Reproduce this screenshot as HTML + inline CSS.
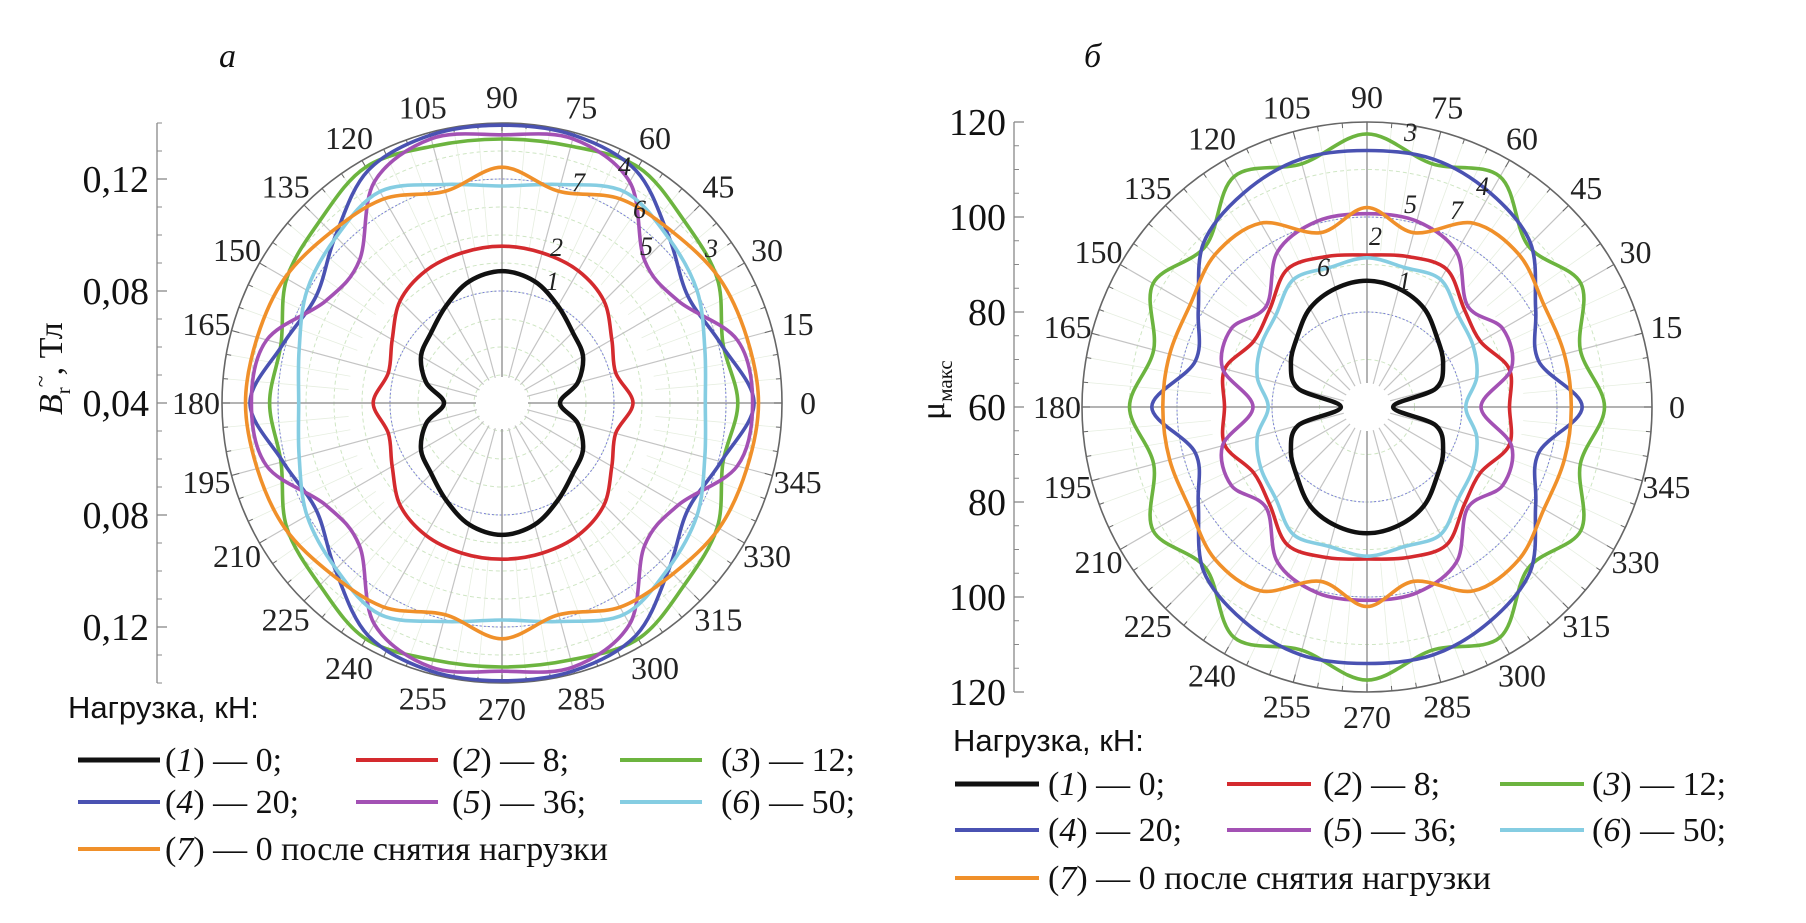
<!DOCTYPE html>
<html><head><meta charset="utf-8">
<style>
html,body{margin:0;padding:0;background:#fff;}
svg{display:block;font-family:"Liberation Serif",serif;}
</style></head>
<body>
<svg id="fig" width="1806" height="923" viewBox="0 0 1806 923"></svg>
<script>
// ---- data (angles in degrees, 0..345 step 15) ----
const angles = [0,15,30,45,60,75,90,105,120,135,150,165,180,195,210,225,240,255,270,285,300,315,330,345];
const seriesNames = ["(1) — 0;","(2) — 8;","(3) — 12;","(4) — 20;","(5) — 36;","(6) — 50;","(7) — 0 после снятия нагрузки"];
// Panel a: B_r~, T
const aS1 = [0.0607,0.068,0.0734,0.0757,0.080,0.085,0.0871,0.085,0.080,0.0757,0.0734,0.068,0.0607,0.068,0.0734,0.0757,0.080,0.085,0.0871,0.085,0.080,0.0757,0.0734,0.068];
const aS2 = [0.0868,0.082,0.0853,0.0915,0.0945,0.0955,0.096,0.0955,0.0945,0.0915,0.0853,0.082,0.0860,0.082,0.0853,0.0915,0.0945,0.0955,0.0958,0.0955,0.0945,0.0915,0.0853,0.082];
const aS3 = [0.1242,0.1217,0.1288,0.132,0.1373,0.135,0.1343,0.135,0.1373,0.132,0.1288,0.1217,0.123,0.1217,0.1288,0.132,0.1373,0.135,0.1343,0.135,0.1373,0.132,0.1288,0.1217];
const aS4 = [0.130,0.121,0.1166,0.1242,0.1358,0.139,0.1392,0.139,0.1358,0.1242,0.1166,0.121,0.130,0.121,0.1166,0.1242,0.1358,0.139,0.1392,0.139,0.1358,0.1242,0.1166,0.121];
const aS5 = [0.1295,0.127,0.1128,0.112,0.1312,0.1377,0.1358,0.1377,0.1312,0.112,0.1128,0.127,0.1295,0.127,0.1128,0.112,0.1312,0.1377,0.1358,0.1377,0.1312,0.112,0.1128,0.127];
const aS6 = [0.1126,0.115,0.1204,0.1238,0.1272,0.1208,0.1175,0.1208,0.1272,0.1238,0.1204,0.115,0.1126,0.115,0.1204,0.1238,0.1272,0.1208,0.1175,0.1208,0.1272,0.1238,0.1204,0.115];
const aS7 = [0.1316,0.1305,0.1295,0.1263,0.1242,0.1183,0.1242,0.1183,0.1242,0.1263,0.1295,0.1305,0.1316,0.1305,0.1295,0.1263,0.1242,0.1183,0.1242,0.1183,0.1242,0.1263,0.1295,0.1305];
// Panel b: mu_max
const bS1 = [65.5,75,78.5,80.8,84,85.8,86.6,85.8,84,80.8,78.5,75,65.5,75,78.5,80.8,84,85.8,86.6,85.8,84,80.8,78.5,75];
const bS2 = [90,91,87.6,89,93.5,92.8,92,92.8,93.5,89,87.6,91,90,91,87.6,89,93.5,92.8,92,92.8,93.5,89,87.6,91];
const bS3 = [110,106.5,112,108,116,113,117.5,113,116,108,112,106.5,110,106.5,112,108,116,113,117.5,113,116,108,112,106.5];
const bS4 = [105.3,97.4,101,108.7,112,114,114,114,112,108.7,101,97.4,105.3,97.4,101,108.7,112,114,114,114,112,108.7,101,97.4];
const bS5 = [84,91.5,93,90,97.7,100.5,100.7,100.5,97.7,90,93,91.5,84,91.5,93,90,97.7,100.5,100.7,100.5,97.7,90,93,91.5];
const bS6 = [80.8,83.9,85.8,87.2,91,90.4,91.4,90.4,91,87.2,85.8,83.9,80.8,83.9,85.8,87.2,91,90.4,91.4,90.4,91,87.2,85.8,83.9];
const bS7 = [103,103,103,105.3,104.7,98,102,98,104.7,105.3,103,103,103,103,103,105.3,104.7,98,102,98,104.7,105.3,103,103];
// tick labels
const aTicks = [0.12,0.08,0.04,0.08,0.12];
const aTickLabels = ["0,12","0,08","0,04","0,08","0,12"];
const bTicks = [120,100,80,60,80,100,120];
const bTickLabels = ["120","100","80","60","80","100","120"];
const angleLabels = ["0","15","30","45","60","75","90","105","120","135","150","165","180","195","210","225","240","255","270","285","300","315","330","345"];

const colors = ["#111111","#d42a2e","#6cb43f","#4a52b2","#a351b4","#85cde2","#f0902a"];
const NS = "http://www.w3.org/2000/svg";
const svg = document.getElementById("fig");
function mk(tag, attrs, parent){const e=document.createElementNS(NS,tag);for(const k in attrs)e.setAttribute(k,attrs[k]);(parent||svg).appendChild(e);return e;}

function drawPanel(p){
  const g = mk("g",{});
  
  
  const rOf = v => (v - p.vmin) * p.scale;
  const R = rOf(p.vmax);
  for(let v=p.vmin+p.minorStep; v<p.vmax-1e-9; v+=p.minorStep){
    const c = mk("circle",{cx:p.cx,cy:p.cy,r:rOf(v),fill:"none",stroke:"#cfe6c4","stroke-width":1,"stroke-dasharray":"4 3"},g);
    
    
  }
  p.blueCircles.forEach(v=>{
    const c = mk("circle",{cx:p.cx,cy:p.cy,r:rOf(v),fill:"none",stroke:"#7b7fd6","stroke-width":1,"stroke-dasharray":"2 2"},g);
    
    
  });
  for(let a=0;a<360;a+=15){
    const t=a*Math.PI/180;
    const l = mk("line",{x1:p.cx+p.hole*Math.cos(t),y1:p.cy-p.hole*Math.sin(t),x2:p.cx+R*Math.cos(t),y2:p.cy-R*Math.sin(t),stroke:(a%90===0)?"#9a9a9a":"#c4c4c4","stroke-width":(a%90===0)?1.5:1.2},g);
    
    
  }
  for(let a=0;a<360;a+=5){
    if(a%15===0) continue;
    const t=a*Math.PI/180;
    const l = mk("line",{x1:p.cx+R*0.55*Math.cos(t),y1:p.cy-R*0.55*Math.sin(t),x2:p.cx+R*Math.cos(t),y2:p.cy-R*Math.sin(t),stroke:"#e6eee0","stroke-width":0.8},g);
    
    
  }
  const oc = mk("circle",{cx:p.cx,cy:p.cy,r:R,fill:"none",stroke:"#666","stroke-width":1.6},g);
  
  
  for(let a=0;a<360;a+=5){
    const t=a*Math.PI/180, len=(a%15===0)?8:5;
    const l = mk("line",{x1:p.cx+R*Math.cos(t),y1:p.cy-R*Math.sin(t),x2:p.cx+(R-len)*Math.cos(t),y2:p.cy-(R-len)*Math.sin(t),stroke:"#666","stroke-width":1},g);
    
    
  }
  angles.forEach((a,i)=>{
    const t=a*Math.PI/180;
    const tx = mk("text",{x:p.cx+p.labR*Math.cos(t),y:p.cy-p.labR*Math.sin(t)+11,"font-size":32,"text-anchor":"middle",fill:"#222"},g);
    tx.textContent = angleLabels[i];
    
    
  });
  p.series.forEach((vals,si)=>{
    const pts = vals.map((v,i)=>{const t=angles[i]*Math.PI/180, r=rOf(v);return [p.cx+r*Math.cos(t), p.cy-r*Math.sin(t)];});
    const n=pts.length; let d="M"+pts[0][0].toFixed(1)+","+pts[0][1].toFixed(1);
    for(let i=0;i<n;i++){
      const p0=pts[(i-1+n)%n],p1=pts[i],p2=pts[(i+1)%n],p3=pts[(i+2)%n];
      const c1=[p1[0]+(p2[0]-p0[0])/6,p1[1]+(p2[1]-p0[1])/6];
      const c2=[p2[0]-(p3[0]-p1[0])/6,p2[1]-(p3[1]-p1[1])/6];
      d+=" C"+c1[0].toFixed(1)+","+c1[1].toFixed(1)+" "+c2[0].toFixed(1)+","+c2[1].toFixed(1)+" "+p2[0].toFixed(1)+","+p2[1].toFixed(1);
    }
    const path = mk("path",{d:d+"Z",fill:"none",stroke:colors[si],"stroke-width":si===0?4.5:3.6,"stroke-linejoin":"round"},g);
    
    
  });
  p.curveLabels.forEach(c=>{
    const tx = mk("text",{x:c[1],y:c[2],"font-size":26,"font-style":"italic",fill:"#222"},g);
    tx.textContent=c[0];
    
    
  });
  const ax = mk("line",{x1:p.axX,y1:p.cy-R,x2:p.axX,y2:p.cy+R,stroke:"#888","stroke-width":1.3},g);
  
  
  for(let y=p.cy-R; y<=p.cy+R+0.5; y+=R/ (p.minorTicks)){
    const l = mk("line",{x1:p.axX,y1:y,x2:p.axX+5,y2:y,stroke:"#888","stroke-width":1},g);
    
    
  }
  p.ticks.forEach((v,i)=>{
    const half = Math.floor(p.ticks.length/2);
    const y = p.cy + (i<half?-1:1)*rOf(v);
    const l = mk("line",{x1:p.axX,y1:y,x2:p.axX+10,y2:y,stroke:"#888","stroke-width":1.3},g);
    
    
    const tx = mk("text",{x:p.axX-8,y:y+13,"font-size":38,"text-anchor":"end",fill:"#111"},g);
    tx.textContent=p.tickLabels[i];
    
    
  });
  const lt = mk("text",{x:p.legX,y:p.legY,"font-size":31,fill:"#111","font-family":"Liberation Sans, sans-serif"},g);
  lt.textContent="Нагрузка, кН:";
  
  
  seriesNames.forEach((nm,si)=>{
    const col=si%3,row=Math.floor(si/3);
    const x0=p.legCols[col], y=p.legRows[row];
    const l = mk("line",{x1:x0,y1:y-11,x2:x0+p.legLineW,y2:y-11,stroke:colors[si],"stroke-width":si===0?5:4},g);
    
    
    const tx = mk("text",{x:p.legText[col],y:y,"font-size":34,fill:"#111"},g);
    
    
    const m = nm.match(/^\((\d)\)(.*)$/);
    const s1=mk("tspan",{},tx); s1.textContent="(";
    const s2=mk("tspan",{"font-style":"italic"},tx); s2.textContent=m[1];
    const s3=mk("tspan",{},tx); s3.textContent=")"+m[2];
  });
}

drawPanel({id:"a",cx:502,cy:403,vmin:0.04,vmax:0.14,scale:2800,hole:26,minorStep:0.01,blueCircles:[0.08,0.12],labR:306,
  series:[aS1,aS2,aS3,aS4,aS5,aS6,aS7],axX:157,minorTicks:10,ticks:aTicks,tickLabels:aTickLabels,
  curveLabels:[["1",546,290],["2",550,256],["3",705,257],["4",618,175],["5",640,255],["6",633,218],["7",572,191]],
  legX:68,legY:718,legRows:[771,813,860],legCols:[78,356,620],legLineW:82,legText:[165,452,721]});
drawPanel({id:"b",cx:1367,cy:407,vmin:60,vmax:120,scale:4.75,hole:24,minorStep:10,blueCircles:[80,100],labR:310,
  series:[bS1,bS2,bS3,bS4,bS5,bS6,bS7],axX:1014,minorTicks:12,ticks:bTicks,tickLabels:bTickLabels,
  curveLabels:[["3",1404,141],["4",1476,195],["5",1404,213],["7",1450,219],["2",1369,245],["6",1317,276],["1",1398,290]],
  legX:953,legY:751,legRows:[795,841,889],legCols:[955,1227,1500],legLineW:84,legText:[1048,1323,1592]});

let t;
t = mk("text",{x:219,y:67,"font-size":34,"font-style":"italic",fill:"#111"});
t.textContent="а";


t = mk("text",{x:1084,y:67,"font-size":34,"font-style":"italic",fill:"#111"});
t.textContent="б";


t = mk("text",{x:0,y:0,"font-size":34,fill:"#111",transform:"translate(62,415) rotate(-90)"});


(function(){const a=mk("tspan",{"font-style":"italic"},t);a.textContent="B";const b=mk("tspan",{"font-size":21,dy:8},t);b.textContent="r";const c=mk("tspan",{"font-size":22,dy:-22},t);c.textContent="~";const d=mk("tspan",{dy:14},t);d.textContent=", Тл";})();
t = mk("text",{x:0,y:0,"font-size":34,fill:"#111",transform:"translate(944,420) rotate(-90)"});


(function(){const a=mk("tspan",{},t);a.textContent="μ";const b=mk("tspan",{"font-size":21,dy:8},t);b.textContent="макс";})();
</script>
</body></html>
